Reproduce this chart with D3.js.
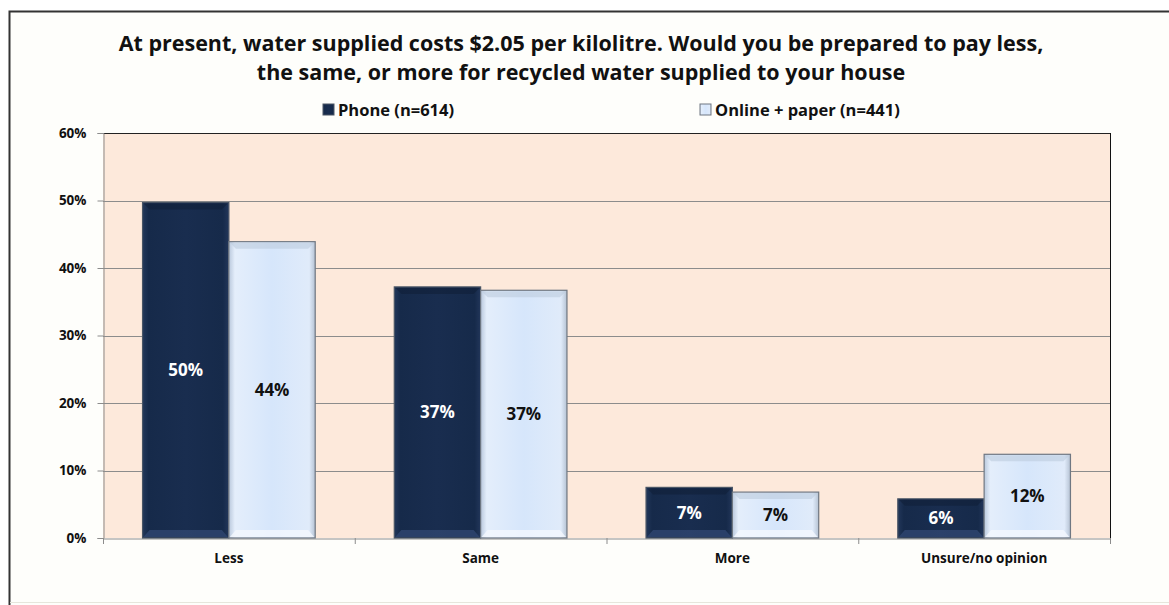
<!DOCTYPE html>
<html><head><meta charset="utf-8">
<script src="https://cdn.jsdelivr.net/npm/d3@7"></script>
<style>
html,body{margin:0;padding:0;background:#fff;}
svg{display:block;font-family:"Open Sans",Lato,sans-serif;font-weight:bold;}
</style></head>
<body>
<svg id="chart" width="1169" height="605"></svg>
<script>
const categories = ["Less", "Same", "More", "Unsure/no opinion"];
const seriesNames = ["Phone (n=614)", "Online + paper (n=441)"];
const phoneValues = [49.7, 37.2, 7.5, 5.8];
const onlineValues = [43.9, 36.7, 6.8, 12.4];
const phoneLabels = ["50%", "37%", "7%", "6%"];
const onlineLabels = ["44%", "37%", "7%", "12%"];
const yTicks = [0, 10, 20, 30, 40, 50, 60];
const titleLines = ["At present, water supplied costs $2.05 per kilolitre. Would you be prepared to pay less,",
                    "the same, or more for recycled water supplied to your house"];

const FONT = "'Open Sans',Lato,sans-serif";
const svg = d3.select("#chart");
const W = 1169, H = 605;
const plot = {left: 103, right: 1110, top: 133, bottom: 538};

// outer frame
svg.append("rect").attr("x", 9.5).attr("y", 11.5).attr("width", 1200).attr("height", 700)
  .attr("fill", "#fefefb").attr("stroke", "#333").attr("stroke-width", 2);
svg.append("line").attr("x1", 10).attr("x2", W).attr("y1", 602.5).attr("y2", 602.5).attr("stroke", "#e6e6dc");

const defs = svg.append("defs");
function grad(id, stops) {
  const g = defs.append("linearGradient").attr("id", id).attr("x1", "0%").attr("x2", "100%").attr("y1", "0%").attr("y2", "0%");
  stops.forEach(s => g.append("stop").attr("offset", s[0]).attr("stop-color", s[1]));
}
grad("gPhone", [["0%", "#22375a"], ["7%", "#162a4a"], ["50%", "#192d4f"], ["93%", "#162a4a"], ["100%", "#22365a"]]);
grad("gOnline", [["0%", "#b9c8dc"], ["7%", "#e4eefb"], ["50%", "#d6e6fb"], ["93%", "#e0ebfa"], ["100%", "#b5c2d3"]]);

// title
svg.append("g").selectAll("text").data(titleLines).join("text")
  .attr("x", 581).attr("y", (d, i) => 51 + i * 29)
  .attr("text-anchor", "middle").attr("font-size", 21.5).attr("fill", "#111")
  .text(d => d);

// scales
const x = d3.scaleBand().domain(categories).range([plot.left, plot.right]).padding(0);
const xs = d3.scaleBand().domain([0, 1]).range([0, x.bandwidth()]).paddingInner(0).paddingOuter(0.458);
const y = d3.scaleLinear().domain([0, 60]).range([plot.bottom, plot.top]);

// plot background
svg.append("rect").attr("x", plot.left).attr("y", plot.top).attr("width", plot.right - plot.left)
  .attr("height", plot.bottom - plot.top).attr("fill", "#fde9db");

// gridlines
svg.append("g").selectAll("line").data(yTicks.filter(t => t > 0 && t < 60)).join("line")
  .attr("x1", plot.left).attr("x2", plot.right)
  .attr("y1", d => Math.round(y(d)) + 0.5).attr("y2", d => Math.round(y(d)) + 0.5)
  .attr("stroke", "#8c8c8c").attr("stroke-width", 1);
// top & right border
svg.append("line").attr("x1", plot.left).attr("x2", plot.right).attr("y1", plot.top + 0.5).attr("y2", plot.top + 0.5).attr("stroke", "#222");
svg.append("line").attr("x1", plot.right + 0.5).attr("x2", plot.right + 0.5).attr("y1", plot.top).attr("y2", plot.bottom).attr("stroke", "#111");

// y axis
const yAxis = d3.axisLeft(y).tickValues(yTicks).tickFormat(d => d + "%").tickSize(6).tickPadding(11);
const ya = svg.append("g").attr("transform", `translate(${plot.left + 0.5},0)`).call(yAxis);
ya.select(".domain").attr("stroke", "#8c8c8c");
ya.selectAll(".tick line").attr("stroke", "#8c8c8c");
ya.selectAll(".tick text").attr("font-size", 13.5).attr("font-family", FONT).attr("font-weight", "bold").attr("fill", "#111");

// x axis
const xAxis = d3.axisBottom(x).tickSize(0).tickPadding(15);
const xa = svg.append("g").attr("transform", `translate(0,${plot.bottom + 0.5})`).call(xAxis);
xa.select(".domain").attr("stroke", "#8c8c8c");
xa.selectAll(".tick text").attr("font-size", 13.5).attr("font-family", FONT).attr("font-weight", "bold").attr("fill", "#111");
// category separator ticks
svg.append("g").selectAll("line").data(d3.range(categories.length + 1)).join("line")
  .attr("x1", d => plot.left + d * x.step() + 0.5).attr("x2", d => plot.left + d * x.step() + 0.5)
  .attr("y1", plot.bottom).attr("y2", plot.bottom + 6).attr("stroke", "#8c8c8c");

// bars
const seriesData = [
  {vals: phoneValues, labels: phoneLabels, fill: "url(#gPhone)", stroke: "#4a5565", hi: "#2f4670", labelColor: "#fff", top: "#101f38"},
  {vals: onlineValues, labels: onlineLabels, fill: "url(#gOnline)", stroke: "#6f7782", hi: "#f4f8fe", labelColor: "#111", top: "#bccbdd"}
];
seriesData.forEach((s, si) => {
  const g = svg.append("g");
  categories.forEach((c, ci) => {
    const x0 = x(c) + xs(si), w = xs.bandwidth();
    const yt = y(s.vals[ci]), h = plot.bottom - yt;
    g.append("rect").attr("x", x0).attr("y", yt).attr("width", w).attr("height", h)
      .attr("fill", s.fill).attr("stroke", s.stroke).attr("stroke-width", 1.2);
    // bevel top
    g.append("path")
      .attr("d", `M${x0 + 1},${yt + 1}H${x0 + w - 1}L${x0 + w - 7},${yt + 7}H${x0 + 7}Z`)
      .attr("fill", s.top).attr("opacity", 0.6);
    // bevel bottom highlight
    const bh = Math.min(7, h / 4);
    g.append("path")
      .attr("d", `M${x0 + 1},${plot.bottom - 1}H${x0 + w - 1}L${x0 + w - 7},${plot.bottom - 1 - bh}H${x0 + 7}Z`)
      .attr("fill", s.hi).attr("opacity", 0.8);
    g.append("text").attr("x", x0 + w / 2).attr("y", yt + h / 2).attr("dy", "0.35em")
      .attr("text-anchor", "middle").attr("font-size", 17).attr("fill", s.labelColor)
      .text(s.labels[ci]);
  });
});

// legend
const legendItems = [
  {name: seriesNames[0], x: 323, fill: "url(#gPhone)", stroke: "#4a5565"},
  {name: seriesNames[1], x: 700, fill: "url(#gOnline)", stroke: "#6f7782"}
];
const lg = svg.append("g").selectAll("g").data(legendItems).join("g").attr("transform", d => `translate(${d.x},104)`);
lg.append("rect").attr("width", 11).attr("height", 11).attr("fill", d => d.fill).attr("stroke", d => d.stroke);
lg.append("text").attr("x", 15).attr("y", 12).attr("font-size", 16.5).attr("fill", "#111").text(d => d.name);
</script>
</body></html>
